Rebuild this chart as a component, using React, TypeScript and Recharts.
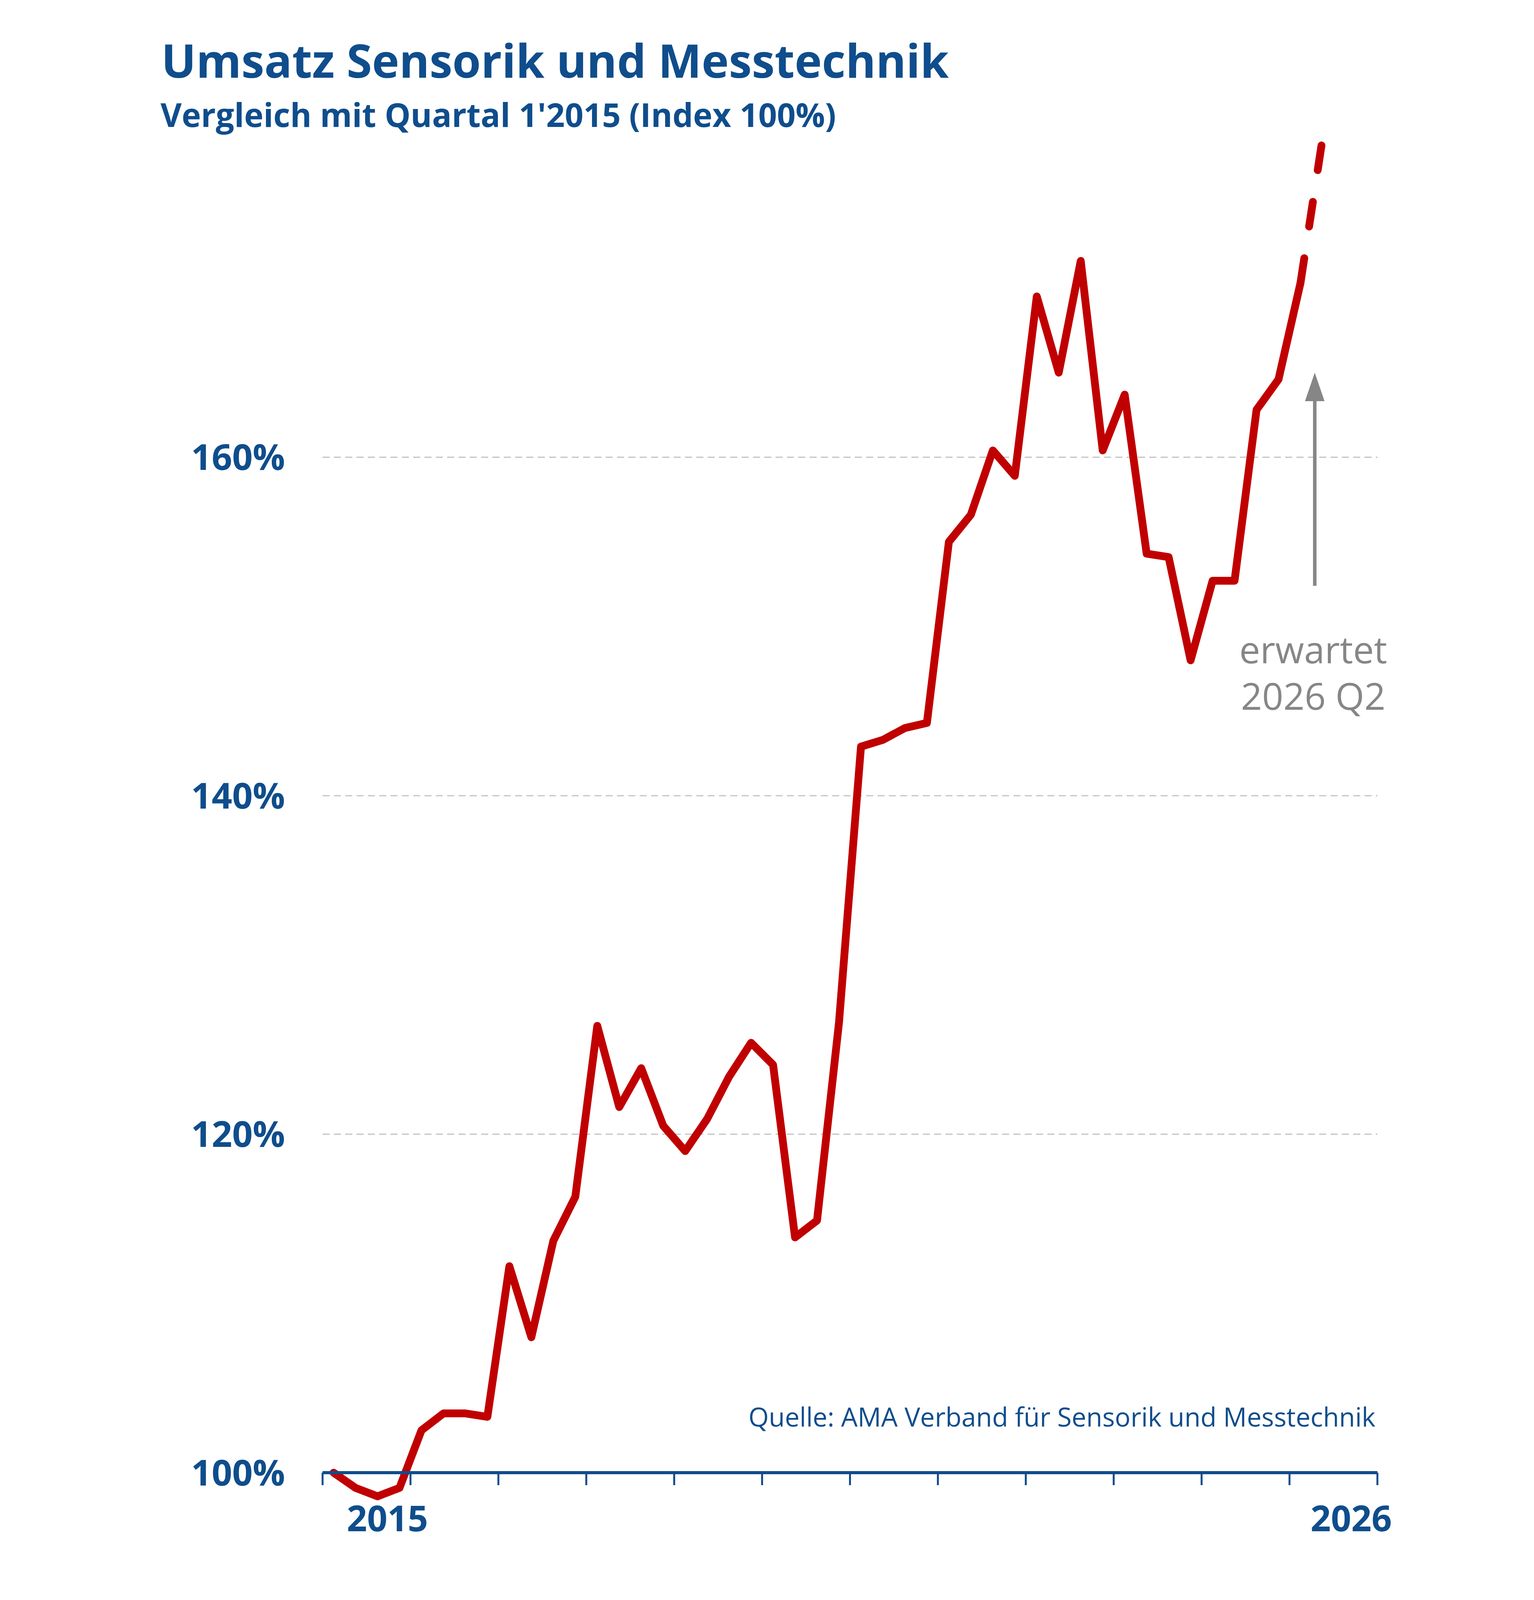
import { LineChart, Line, XAxis, YAxis, CartesianGrid, ReferenceLine } from 'recharts'

// Index Q1 2015 = 100
const YEARS = [2015, 2016, 2017, 2018, 2019, 2020, 2021, 2022, 2023, 2024, 2025, 2026]
const QUARTERS = ['Q1', 'Q2', 'Q3', 'Q4']

// Ist-Werte 2015 Q1 .. 2026 Q1
const ACTUAL = [
  100.0, 99.1, 98.6, 99.1,
  102.5, 103.5, 103.5, 103.3,
  112.2, 108.0, 113.7, 116.3,
  126.4, 121.6, 123.9, 120.5,
  119.0, 120.9, 123.4, 125.4,
  124.1, 113.9, 114.9, 126.6,
  142.9, 143.3, 144.0, 144.3,
  155.0, 156.6, 160.4, 158.9,
  169.5, 165.0, 171.6, 160.4,
  163.7, 154.3, 154.1, 148.0,
  152.7, 152.7, 162.8, 164.6,
  170.3,
]
// Prognose 2026 Q2
const FORECAST = [178.8]

const Y_TICKS = [100, 120, 140, 160]
const GRID_VALUES = [120, 140, 160]
const X_TICK_LABELS: Record<number, string> = { 0: '2015', 48: '2026' }

// Pfeil "erwartet 2026 Q2"
const ARROW_X = 45.15
const ARROW_FROM = 152.4
const ARROW_TO = 165.0

const BLUE = '#0f4d8c'
const RED = '#c00000'
const GRAY = '#868686'
const FONT = '"Open Sans", sans-serif'

// Fenster ist nur 4096 hoch -> alles passt in diese Höhe
const W = 3928
const H = 4096

const quarterLabels = YEARS.flatMap((y) => QUARTERS.map((q) => `${y} ${q}`))
const data = quarterLabels.slice(0, ACTUAL.length + FORECAST.length).map((label, i) => ({
  label,
  pos: i + 0.5,
  actual: i < ACTUAL.length ? ACTUAL[i] : null,
  forecast:
    i === ACTUAL.length - 1
      ? ACTUAL[i]
      : i >= ACTUAL.length
        ? FORECAST[i - ACTUAL.length]
        : null,
}))
const xTicks = [...YEARS.map((_, i) => i * 4), YEARS.length * 4]

const XTick = ({ x, y, payload }: any) => {
  const txt = X_TICK_LABELS[payload.value]
  if (!txt) return null
  const first = payload.value === 0
  return (
    <text
      x={first ? x + 62 : x + 37}
      y={y + 116}
      textAnchor={first ? 'start' : 'end'}
      fill={BLUE}
      fontSize={91}
      fontWeight={700}
      fontFamily={FONT}
    >
      {txt}
    </text>
  )
}

const ArrowShape = (props: any) => {
  const { x1, y1, y2 } = props
  const bottom = Math.max(y1, y2)
  const top = Math.min(y1, y2)
  return (
    <g>
      <line x1={x1} x2={x1} y1={bottom} y2={top + 64} stroke={GRAY} strokeWidth={9} />
      <polygon points={`${x1 - 25},${top + 73} ${x1 + 25},${top + 73} ${x1},${top}`} fill={GRAY} />
      <text x={x1 - 4} y={bottom + 198} textAnchor="middle" fill={GRAY} fontSize={95} fontFamily={FONT}>
        erwartet
      </text>
      <text x={x1 - 4} y={bottom + 317} textAnchor="middle" fill={GRAY} fontSize={95} fontFamily={FONT}>
        2026 Q2
      </text>
    </g>
  )
}

export default function App() {
  return (
    <div style={{ position: 'absolute', left: 0, top: 0, width: W, height: H, background: '#fff', fontFamily: FONT }}>
      {/* Linie darf unter die 100%-Achse reichen */}
      <style>{`.recharts-line, .recharts-line *, .recharts-line-curve { clip-path: none !important; }`}</style>
      <div style={{ position: 'absolute', left: 413, top: 95, fontSize: 118, lineHeight: 1, fontWeight: 700, color: BLUE, whiteSpace: 'nowrap' }}>
        Umsatz Sensorik und Messtechnik
      </div>
      <div style={{ position: 'absolute', left: 411, top: 251, fontSize: 83.5, lineHeight: 1, fontWeight: 700, color: BLUE, whiteSpace: 'nowrap' }}>
        Vergleich mit Quartal 1'2015 (Index 100%)
      </div>
      <div style={{ position: 'absolute', right: 406, top: 3593, fontSize: 67, lineHeight: 1, color: BLUE, whiteSpace: 'nowrap' }}>
        Quelle: AMA Verband für Sensorik und Messtechnik
      </div>
      <LineChart width={W} height={H} data={data} margin={{ top: 304, right: 401, bottom: 176, left: 0 }}>
        <CartesianGrid
          horizontal
          vertical={false}
          horizontalValues={GRID_VALUES}
          stroke="#c4c4c4"
          strokeWidth={3}
          strokeDasharray="18 11"
        />
        <XAxis
          dataKey="pos"
          type="number"
          domain={[0, 48]}
          ticks={xTicks}
          interval={0}
          height={150}
          axisLine={{ stroke: BLUE, strokeWidth: 8 }}
          tickLine={{ stroke: BLUE, strokeWidth: 5 }}
          tickSize={32}
          tick={<XTick />}
        />
        <YAxis
          type="number"
          domain={[100, 180]}
          allowDataOverflow
          ticks={Y_TICKS}
          interval={0}
          width={826}
          axisLine={false}
          tickLine={false}
          tickSize={0}
          tickMargin={96}
          tickFormatter={(v: number) => `${v}%`}
          tick={{ fill: BLUE, fontSize: 92, fontWeight: 700, fontFamily: FONT }}
        />
        <ReferenceLine
          segment={[{ x: ARROW_X, y: ARROW_FROM }, { x: ARROW_X, y: ARROW_TO }]}
          shape={<ArrowShape />}
        />
        <Line
          type="linear"
          dataKey="actual"
          stroke={RED}
          strokeWidth={20}
          strokeLinejoin="round"
          strokeLinecap="round"
          dot={false}
          activeDot={false}
          isAnimationActive={false}
        />
        <Line
          type="linear"
          dataKey="forecast"
          stroke={RED}
          strokeWidth={20}
          strokeLinecap="round"
          strokeDasharray="64 82"
          dot={false}
          activeDot={false}
          isAnimationActive={false}
        />
      </LineChart>
    </div>
  )
}
